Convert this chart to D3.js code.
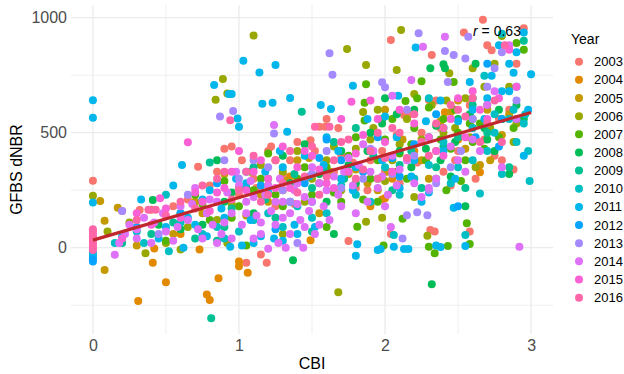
<!DOCTYPE html>
<html>
<head>
<meta charset="utf-8">
<script src="https://cdn.jsdelivr.net/npm/d3@7"></script>
<style>
  body { margin: 0; background: #fff; }
  text { font-family: "Liberation Sans", Arial, sans-serif; }
</style>
</head>
<body>
<svg id="drawing_region" width="624" height="374"></svg>
<script>
// values: [CBI, GFBS dNBR]
var years = ["2003","2004","2005","2006","2007","2008","2009","2010","2011","2012","2013","2014","2015","2016"];
var colors = ["#F8766D","#E38900","#C49A00","#99A800","#53B400","#00BC56","#00C094",
              "#00BFC4","#00B6EB","#06A4FF","#A58AFF","#DF70F8","#FB61D7","#FF66A8"];

var p2003 = [[0,291],[0.32,164],[0.72,352],[1.05,-65],[1.15,-29],[1.19,-65],[1.75,29],[2.31,77],[2.34,70],[2.58,70],
  [2.04,903],[2.54,936],[2.67,991],[2.95,954],[2.32,838],[2.30,642],[2.73,858],[2.04,60],[1.49,467],[1.55,526],[1.59,526],
  [0.4,165],[0.55,180],[0.9,430],[0.95,440],[1.0,230],[1.1,300],[1.2,420],[1.25,180],[1.35,380],[1.45,300],[1.6,560],
  [1.65,330],[1.7,400],[1.8,260],[1.9,380],[2.0,330],[2.1,280],[2.13,577],[2.16,577],[2.2,300],[2.25,500],[2.35,640],
  [2.4,330],[2.45,270],[2.5,420],[2.6,520],[2.62,300],[2.7,880],[2.75,400],[2.8,380],[2.85,600],[2.9,800],[1.4,460],[0.8,270],[0.2,160],
  [0.65,210],[0.85,330],[1.02,380],[1.12,260],[1.3,320],[1.38,190],[1.52,420],[1.68,520],[1.78,370],[1.88,250],[1.98,420],
  [2.08,490],[2.22,370],[2.38,520],[2.48,380],[2.58,620],[2.68,470],[2.78,560],[2.88,340],[1.22,440]];
var p2004 = [[0.31,-232],[0.41,-65],[0.42,-3],[0.5,-150],[0.78,-203],[0.80,-227],[0.86,-133],[0.73,-8],[1.0,-60],[1.0,-80],
  [1.06,-109],[1.49,33],[1.98,210],[2.0,215],[2.65,328],[2.41,589],[1.3,250],[1.7,300],[2.2,420],[0.6,60],[1.9,180],
  [1.35,310],[2.5,470],[2.05,300]];
var p2005 = [[0.05,203],[0.08,117],[0.08,-97],[0.17,174],[0.3,10],[0.55,60],[0.9,320],[1.2,200],[1.4,380],[1.55,150],
  [1.8,340],[2.0,600],[2.25,380],[2.45,590],[2.6,560],[2.65,360],[2.8,490],[2.3,300],[1.95,250],[1.05,140],[0.7,200],[2.7,600],[2.5,640],
  [0.75,150],[1.15,230],[1.32,290],[1.62,330],[1.88,280],[2.12,470],[2.38,550],[2.55,430],[2.72,380],[2.85,580],[1.48,390],[2.02,330]];
var p2006 = [[0,226],[1.10,922],[0.89,733],[0.84,643],[0.92,670],[1.74,864],[1.87,794],[2.11,946],[2.08,772],[2.2,668],
  [2.44,758],[2.29,52],[1.98,130],[1.87,113],[1.68,-193],[0.36,-24],[0.6,-8],[2.8,920],[2.85,700],[2.9,540],[2.75,800],
  [2.6,780],[2.55,650],[2.4,500],[2.35,420],[2.2,220],[2.1,450],[2.05,380],[1.95,600],[1.9,470],[1.8,430],[1.7,250],
  [1.6,380],[1.5,300],[1.4,420],[1.3,330],[1.2,270],[1.15,360],[1.0,260],[0.85,120],[0.5,20],[0.25,110],[0.1,70],
  [0.65,90],[0.95,190],[1.25,380],[1.45,200],[1.65,440],[1.75,320],[1.92,520],[2.0,290],[2.15,560],[2.25,470],[2.32,620],
  [2.48,520],[2.58,480],[2.68,700],[2.72,520],[2.88,460],[1.08,330],[1.85,590],[2.42,640],[2.62,350],[1.3,60],[0.92,20]];
var p2007 = [[1.87,710],[1.86,630],[1.86,553],[2.14,638],[2.25,724],[2.47,720],[2.56,106],[2.58,16],[1.99,10],[2.12,126],
  [1.81,91],[2.34,-24],[2.30,4],[2.43,7],[2.9,890],[2.95,860],[2.8,560],[2.7,620],[2.65,540],[2.6,460],[2.55,380],[2.5,500],
  [2.45,430],[2.4,560],[2.35,300],[2.3,610],[2.2,520],[2.15,300],[2.1,410],[2.05,560],[2.0,470],[1.95,380],[1.9,300],
  [1.8,480],[1.7,200],[1.6,350],[1.5,230],[1.4,300],[1.3,180],[1.2,410],[1.1,250],[1.0,180],[0.9,290],[0.8,120],[0.7,230],[0.6,150],[0.5,30],
  [0.75,190],[0.95,130],[1.15,300],[1.25,230],[1.45,350],[1.55,280],[1.65,240],[1.75,400],[1.85,210],[1.98,560],[2.08,330],
  [2.18,450],[2.28,380],[2.38,470],[2.48,600],[2.58,540],[2.68,430],[2.78,480],[2.88,520],[2.52,290],[2.22,650],[1.95,200],[2.42,250],
  [1.05,10],[1.6,90]];
var p2008 = [[0.41,207],[1.37,-54],[2.32,-159],[2.31,780],[2.40,797],[2.41,780],[2.6,650],[2.7,470],[2.75,420],[2.85,320],
  [2.5,560],[2.2,600],[2.1,420],[2.0,650],[1.9,500],[1.8,280],[1.7,420],[1.6,200],[1.45,450],[1.3,400],[1.2,300],[1.1,150],
  [0.95,240],[0.85,380],[0.75,100],[0.6,80],[0.45,100],[2.45,310],[2.35,530],[2.55,180],[2.9,620],
  [0.9,200],[1.05,260],[1.35,280],[1.55,320],[1.75,360],[1.88,420],[1.98,540],[2.08,580],[2.18,350],[2.28,430],[2.38,380],
  [2.48,460],[2.58,580],[2.68,520],[2.78,600],[2.95,560],[2.62,800],[1.65,60]];
var p2009 = [[0.81,-307],[1.43,591],[0.8,370],[0.2,20],[0.4,60],[0.55,110],[0.7,40],[0.9,90],[1.1,350],[1.25,130],[1.5,260],
  [1.65,460],[1.8,520],[1.95,300],[2.1,360],[2.25,260],[2.4,440],[2.55,260],[2.7,500],[2.85,350],[2.95,900],[2.6,620],[2.3,480],
  [0.95,170],[1.18,210],[1.38,320],[1.58,340],[1.72,300],[1.92,400],[2.05,250],[2.18,420],[2.35,350],[2.5,480],[0.85,30],[1.5,70]];
var p2010 = [[2.99,290],[2.65,236],[2.55,55],[2.06,55],[2.68,748],[0,-20],[0,-40],[2.95,540],[2.98,420],[2.9,460],[2.8,320],
  [2.75,500],[2.85,560],[2.7,420],[2.6,380],[2.5,350],[2.4,460],[2.2,300],[2.0,350],[1.8,230],[1.6,150],[1.4,180],[1.2,150],
  [1.0,70],[0.9,40],[0.75,60],[0.6,110],[0.5,230],[0.3,70],[0.15,20],[2.3,650],[2.9,560],[2.8,930],
  [0.85,90],[1.1,120],[1.3,90],[1.5,130],[1.7,270],[1.9,200],[2.1,230],[2.3,360],[2.45,280],[2.6,520],[2.75,580],[2.88,600],[2.96,580],
  [0.35,20],[0.52,-15]];
var p2011 = [[0,641],[0,565],[0,197],[0.83,707],[1.03,813],[1.25,794],[1.14,762],[0.93,668],[0.95,668],[0.99,562],[1.0,526],
  [1.16,626],[1.23,630],[1.35,651],[1.56,620],[1.63,603],[1.78,704],[1.33,504],[0.61,360],[0.33,210],[1.80,-35],[1.81,15],
  [1.95,-10],[1.97,-6],[2.06,4],[2.13,-6],[2.16,-6],[2.35,10],[2.38,3],[2.55,7],[2.47,174],[2.21,870],[2.09,661],[2.73,748],
  [3.0,754],[2.95,935],[2.9,850],[2.85,800],[2.8,680],[2.7,650],[2.6,600],[2.5,550],[2.4,420],[2.3,240],[2.2,380],[2.1,260],
  [2.0,570],[1.9,420],[1.8,350],[1.7,300],[1.6,480],[1.5,200],[1.45,400],[1.4,60],[1.3,350],[1.2,240],[1.1,20],[1.05,280],
  [0.9,130],[0.8,250],[0.7,100],[0.55,270],[0.45,40],[0.2,50],[0,-30],[2.95,400],[2.85,680],
  [0.65,130],[0.75,210],[0.88,170],[0.98,300],[1.08,120],[1.18,330],[1.28,420],[1.38,100],[1.48,310],[1.58,360],[1.68,420],
  [1.78,250],[1.88,560],[1.98,380],[2.08,480],[2.18,310],[2.28,550],[2.38,640],[2.48,300],[2.58,720],[2.68,560],[2.78,880],
  [2.88,760],[2.98,600],[1.3,30],[1.15,50],[0.5,90],[0.78,50],[1.52,90],[2.25,200],
  [0.94,4],[1.02,10],[1.24,40],[0.62,0]];
var p2012 = [[2.78,440],[2.5,180],[2.2,450],[1.95,480],[1.7,380],[1.45,280],[1.25,80],[1.05,330],[0.85,280],[0.6,150],[0.3,90],
  [0,-50],[0,-60],[2.35,580],[2.7,800],[2.9,700],[1.6,470],[2.1,310],
  [1.15,270],[1.35,200],[1.55,390],[1.85,330],[2.05,390],[2.4,520],[2.62,480],[2.8,560]];
var p2013 = [[0.87,570],[0.96,594],[1.62,845],[1.64,752],[1.24,496],[0.2,160],[2.15,141],[2.22,154],[2.29,141],[2.12,40],
  [2.57,917],[2.23,932],[2.41,855],[2.47,838],[2.55,823],[2.43,720],[1.98,719],[2.0,697],[2.8,850],[2.75,780],[2.6,560],
  [2.45,350],[2.3,250],[2.15,600],[1.85,300],[1.6,420],[1.4,20],[1.3,250],[1.1,380],[0.9,380],[0.65,230],[0.45,60],
  [1.0,300],[1.2,350],[1.5,320],[1.7,260],[1.9,430],[2.05,320],[2.2,400],[2.35,280],[2.52,420],[2.7,700],[2.9,640],[1.35,200]];
var p2014 = [[1.24,533],[2.04,90],[2.05,661],[2.18,729],[2.41,917],[2.26,874],[2.92,4],[0,60],[0.15,-30],[0.18,20],[0.22,60],
  [0.25,100],[0.3,40],[0.35,130],[0.42,110],[0.48,150],[0.5,70],[0.55,30],[0.6,180],[0.65,120],[0.7,260],[0.72,80],[0.78,150],
  [0.82,100],[0.85,200],[0.88,60],[0.92,240],[0.95,150],[0.98,330],[1.02,100],[1.05,200],[1.08,290],[1.12,140],[1.15,60],
  [1.18,230],[1.22,160],[1.25,100],[1.28,300],[1.3,200],[1.32,0],[1.35,150],[1.38,250],[1.4,190],[1.42,120],[1.45,220],
  [1.48,160],[1.5,350],[1.55,100],[1.6,250],[1.65,310],[1.7,180],[1.75,390],[1.8,150],[1.85,450],[1.9,330],[1.95,260],
  [2.0,180],[2.05,400],[2.1,340],[2.2,280],[2.3,260],[2.5,380],[2.6,470],[2.75,680],[2.8,350],[2.85,880],[1.44,0],[1.2,-5],
  [0.3,80],[0.4,20],[0.58,90],[0.68,190],[0.75,40],[0.8,210],[0.9,110],[0.95,40],[1.0,270],[1.05,150],[1.1,220],[1.15,110],
  [1.2,270],[1.25,200],[1.3,130],[1.35,60],[1.4,280],[1.45,90],[1.5,200],[1.52,60],[1.55,280],[1.58,180],[1.62,120],[1.68,230],
  [1.72,330],[1.78,270],[1.82,360],[1.88,200],[1.92,420],[1.98,310],[2.02,230],[2.08,270],[2.15,380],[2.25,220],[2.35,300],
  [2.45,440],[2.55,330],[2.65,420],[2.7,620],[2.9,560],[1.1,40],[1.27,20],[0.85,20]];
var p2015 = [[0.65,458],[0.46,215],[1.77,634],[0,20],[0,40],[0,0],[0.3,150],[0.5,170],[0.7,240],[0.9,260],[1.1,330],[1.3,440],
  [1.5,400],[1.7,560],[1.9,640],[2.1,600],[2.3,480],[2.5,650],[2.7,560],[2.85,860],[1.0,420],[1.2,300],[1.4,350],[1.6,280],
  [1.8,410],[2.0,460],[2.4,400],[2.6,680],[0.8,160],[0.2,40],
  [0.4,100],[0.6,130],[0.75,200],[0.85,240],[0.95,330],[1.05,250],[1.15,380],[1.25,260],[1.35,260],[1.45,420],[1.55,340],
  [1.65,260],[1.75,330],[1.85,490],[1.95,560],[2.05,330],[2.2,540],[2.35,420],[2.45,560],[2.55,480],[2.65,600],[2.78,650],[2.9,700]];
var p2016 = [[0,80],[0,50],[0,10],[0,30],[0,-10],[0,70],[0.94,554],[0.38,165],[0.43,165],[1.52,526],[0.6,200],[0.75,270],
  [0.85,300],[0.95,210],[1.05,330],[1.15,200],[1.25,380],[1.35,420],[1.45,310],[1.55,230],[1.65,380],[1.75,470],[1.85,340],
  [1.95,500],[2.05,520],[2.15,390],[2.25,460],[2.35,540],[2.45,620],[2.55,570],[2.65,460],[2.75,640],[2.82,880],[1.62,526],
  [0.5,140],[0.7,170],[0.9,330],[1.0,250],[1.1,400],[1.2,230],[1.3,280],[1.4,240],[1.5,440],[1.6,310],[1.7,460],[1.8,300],
  [1.9,420],[2.0,390],[2.1,500],[2.2,580],[2.3,400],[2.4,520],[2.5,600],[2.6,650],[2.7,540],[2.8,460],[0.3,120],[1.95,300]];

var series = [p2003,p2004,p2005,p2006,p2007,p2008,p2009,p2010,p2011,p2012,p2013,p2014,p2015,p2016];

var xTicks = [0, 1, 2, 3];
var yTicks = [0, 500, 1000];
var fitX = [0, 3];        // fitted line
var fitY = [33, 588];
var rLabel = "0.63";

var svg = d3.select('#drawing_region');
var x = d3.scaleLinear().domain([-0.15, 3.15]).range([71, 553]);
var y = d3.scaleLinear().domain([-375, 1055]).range([334, 5]);

// grid
var grid = svg.append("g");
[0.5, 1.5, 2.5].forEach(v => grid.append("line")
  .attr("x1", x(v)).attr("x2", x(v)).attr("y1", 5).attr("y2", 334)
  .attr("stroke", "#ebebeb").attr("stroke-width", 0.8));
[-250, 250, 750].forEach(v => grid.append("line")
  .attr("y1", y(v)).attr("y2", y(v)).attr("x1", 71).attr("x2", 553)
  .attr("stroke", "#ebebeb").attr("stroke-width", 0.8));
xTicks.forEach(v => grid.append("line")
  .attr("x1", x(v)).attr("x2", x(v)).attr("y1", 5).attr("y2", 334)
  .attr("stroke", "#ebebeb").attr("stroke-width", 1.3));
yTicks.forEach(v => grid.append("line")
  .attr("y1", y(v)).attr("y2", y(v)).attr("x1", 71).attr("x2", 553)
  .attr("stroke", "#ebebeb").attr("stroke-width", 1.3));

// axes (text only, like theme_minimal)
var xAxis = svg.append("g").attr("transform", "translate(0,334)")
  .call(d3.axisBottom(x).tickValues(xTicks).tickSize(0).tickPadding(6).tickFormat(d3.format("d")));
var yAxis = svg.append("g").attr("transform", "translate(71,0)")
  .call(d3.axisLeft(y).tickValues(yTicks).tickSize(0).tickPadding(4).tickFormat(d3.format("d")));
[xAxis, yAxis].forEach(a => {
  a.select(".domain").remove();
  a.selectAll("text").attr("font-size", 16).attr("fill", "#4d4d4d")
    .attr("font-family", "'Liberation Sans', Arial, sans-serif");
});

svg.append("text").attr("x", 312).attr("y", 369).attr("text-anchor", "middle")
  .attr("font-size", 16).text("CBI");
svg.append("text").attr("transform", "translate(22,169.5) rotate(-90)")
  .attr("text-anchor", "middle").attr("font-size", 16).text("GFBS dNBR");

// points
series.forEach((pts, i) => {
  svg.append("g").selectAll("circle")
    .data(pts)
    .join("circle")
    .attr("cx", d => x(d[0]))
    .attr("cy", d => y(d[1]))
    .attr("r", 4)
    .attr("fill", colors[i]);
});

// fitted line
svg.append("path")
  .datum(fitX.map((d, i) => [d, fitY[i]]))
  .attr("d", d3.line().x(d => x(d[0])).y(d => y(d[1])))
  .attr("stroke", "#C0272D").attr("stroke-width", 3.2).attr("fill", "none");

var rt = svg.append("text").attr("x", 497).attr("y", 36).attr("text-anchor", "middle").attr("font-size", 14);
rt.append("tspan").attr("font-style", "italic").text("r");
rt.append("tspan").text(" = " + rLabel);

// legend
var legend = svg.append("g");
legend.append("text").attr("x", 571).attr("y", 44).attr("font-size", 14).text("Year");
years.forEach((yr, i) => {
  var cy = 61.7 + i * 18.15;
  legend.append("circle").attr("cx", 579).attr("cy", cy).attr("r", 4).attr("fill", colors[i]);
  legend.append("text").attr("x", 594).attr("y", cy).attr("dy", "0.35em")
    .attr("font-size", 13).text(yr);
});
</script>
</body>
</html>
